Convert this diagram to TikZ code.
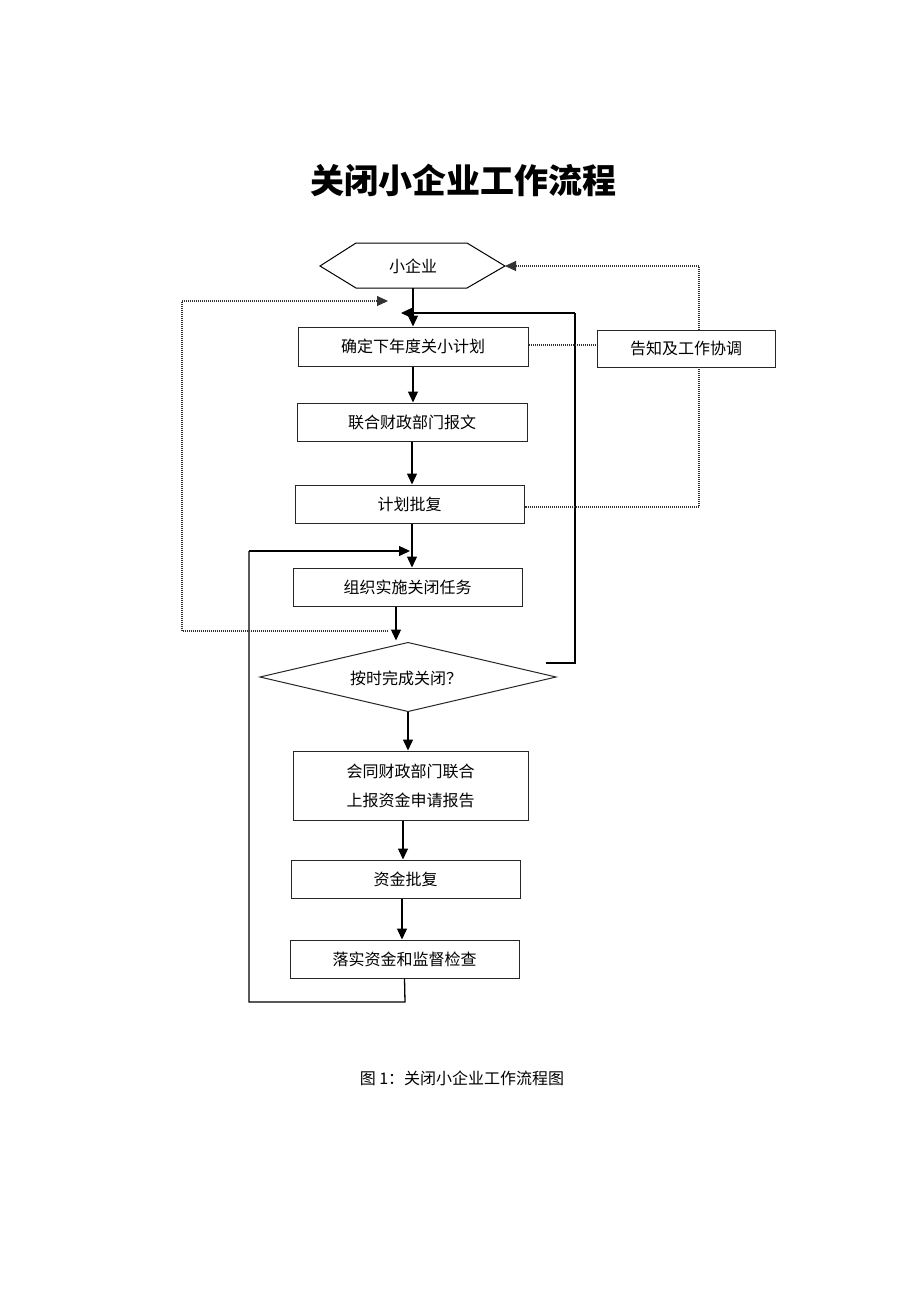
\documentclass[tikz,border=0pt]{standalone}
\usepackage{fontspec}
\setmainfont{Noto Sans CJK SC}
\usetikzlibrary{arrows.meta,shapes.geometric}
\tikzset{
  box/.style={draw=black!85, line width=1pt, minimum width=229pt, minimum height=38pt, inner sep=0pt, font=\fontsize{16}{29}\selectfont, align=center},
  arr/.style={line width=1.3pt, -{Triangle[length=11pt,width=10pt]}},
  ln/.style={line width=1.3pt},
  dot/.style={line width=1.1pt, black!80, dash pattern=on 1pt off 1pt},
  dotarr/.style={dot, -{Triangle[length=11pt,width=10pt]}},
}
\begin{document}
\begin{tikzpicture}[x=1pt,y=-1pt]
\useasboundingbox[fill=white] (0,0) rectangle (920,1302);
% title
\node[font=\fontsize{34}{36}\selectfont\bfseries] (title) at (463,180) {关闭小企业工作流程};
% hexagon
\draw[line width=1pt] (320,266) -- (356,243) -- (467,243) -- (505,266) -- (467,288) -- (356,288) -- cycle;
\node[font=\fontsize{16}{18}\selectfont] (hex) at (413,266) {小企业};
\coordinate (hexS) at (413,288);
\coordinate (hexE) at (505,266);
% boxes
\node[box, minimum width=230pt, minimum height=39pt] (b1) at (413,346.5) {确定下年度关小计划};
\node[box, minimum width=230pt] (b2) at (412,422) {联合财政部门报文};
\node[box] (b3) at (409.5,504) {计划批复};
\node[box] (b4) at (407.5,587) {组织实施关闭任务};
% diamond
\draw[line width=1pt, draw=black!85] (260,677) -- (408,642.5) -- (556,677) -- (408,711.5) -- cycle;
\node[font=\fontsize{16}{18}\selectfont] (dia) at (406,678) {按时完成关闭？};
\coordinate (diaN) at (408,642.5);
\coordinate (diaS) at (408,711.5);
\node[box, minimum width=235pt, minimum height=69pt] (b5) at (410.5,785.5) {会同财政部门联合\\上报资金申请报告};
\node[box] (b6) at (405.5,879) {资金批复};
\node[box] (b7) at (404.5,959) {落实资金和监督检查};
\node[box, minimum width=178pt, minimum height=37pt] (rb) at (686,348.5) {告知及工作协调};
% main arrows
\draw[arr] (hexS) -- (hexS |- b1.north);
\draw[arr] (b1.south) -- (b1.south |- b2.north);
\draw[arr] (b2.south) -- (b2.south |- b3.north);
\draw[arr] ([xshift=2.5pt]b3.south) -- ([xshift=2.5pt]b3.south |- b4.north);
\draw[arr] ([xshift=-11.5pt]b4.south) -- ([xshift=-11.5pt,yshift=2pt]b4.south |- diaN);
\draw[arr] (diaS) -- (diaS |- b5.north);
\draw[arr] ([xshift=-7.5pt]b5.south) -- ([xshift=-7.5pt]b5.south |- b6.north);
\draw[arr] ([xshift=-3.5pt]b6.south) -- ([xshift=-3.5pt]b6.south |- b7.north);
% bottom loop back
\coordinate (lb1) at (405,1002);
\coordinate (lb2) at (249,1002);
\coordinate (lb3) at (249,551);
\coordinate (lb4) at (410,551);
\draw[ln] (b7.south) -- (lb1) -- (lb2) -- (lb3);
\draw[arr] (lb3) -- (lb4);
% right loop back
\coordinate (rl1) at (546,663);
\coordinate (rl2) at (575,663);
\coordinate (rl3) at (575,313);
\coordinate (rl4) at (401,313);
\draw[ln] (rl1) -- (rl2) -- (rl3);
\draw[arr] (rl3) -- (rl4);
% dotted notification lines
\draw[dot] (b1.east |- 0,345) -- (rb.west |- 0,345);
\coordinate (rt1) at (699,330);
\coordinate (rt2) at (699,266);
\draw[dot] (rt1) -- (rt2);
\draw[dotarr] (rt2) -- (hexE);
\coordinate (rd1) at (699,367);
\coordinate (rd2) at (699,507);
\draw[dot] (rd1) -- (rd2) -- (b3.east |- rd2);
% left dotted loop
\coordinate (ld1) at (388,631);
\coordinate (ld2) at (182,631);
\coordinate (ld3) at (182,301);
\coordinate (ld4) at (388,301);
\draw[dot] (ld1) -- (ld2) -- (ld3);
\draw[dotarr] (ld3) -- (ld4);
% caption
\node[font=\fontsize{16}{18}\selectfont] (cap) at (462,1078) {图 1：关闭小企业工作流程图};
\end{tikzpicture}
\end{document}
